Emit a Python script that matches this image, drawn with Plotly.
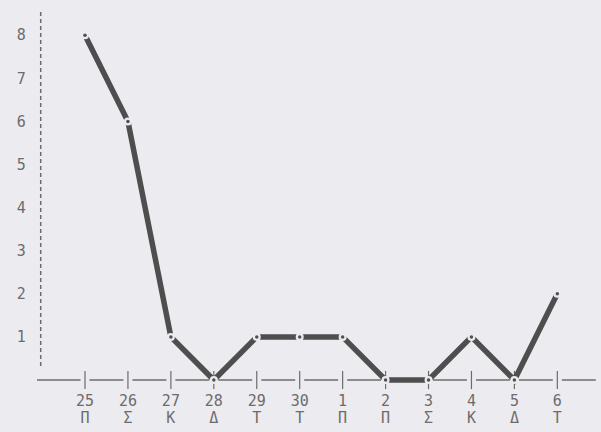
import plotly.graph_objects as go

# ---- data ----
days = ["25", "26", "27", "28", "29", "30", "1", "2", "3", "4", "5", "6"]
weekdays = ["Π", "Σ", "Κ", "Δ", "Τ", "Τ", "Π", "Π", "Σ", "Κ", "Δ", "Τ"]
values = [8, 6, 1, 0, 1, 1, 1, 0, 0, 1, 0, 2]
y_ticks = [1, 2, 3, 4, 5, 6, 7, 8]

# ---- style / geometry ----
W, H = 601, 432
BG = "#ecebf0"
INK = "#6c6c6c"
LINE = "#4e4e4e"
FONT = "DejaVu Sans Mono"

x0_px, dx_px = 85, 42.94      # pixel of first category, pixels per category
y0_px, dy_px = 380, 43.1      # pixel of value 0, pixels per unit

xr = [-x0_px / dx_px, (W - x0_px) / dx_px]
yr = [-(H - y0_px) / dy_px, y0_px / dy_px]

idx = list(range(len(days)))

fig = go.Figure()

# dashed x-axis line: one dash between neighbouring categories, gap at ticks
g = 4.5 / dx_px
ax_x, ax_y = [xr[0] + 37 / dx_px, idx[0] - g, None], [0, 0, None]
for i in idx:
    ax_x += [i + g, i + 1 - g, None]
    ax_y += [0, 0, None]
fig.add_trace(go.Scatter(
    x=ax_x, y=ax_y, mode="lines", line=dict(color=INK, width=1.4),
    hoverinfo="skip", showlegend=False, cliponaxis=False))

# tick marks on x axis
fig.add_trace(go.Scatter(
    x=idx, y=[0] * len(idx), mode="markers",
    marker=dict(symbol="line-ns-open", size=13, color=INK,
                line=dict(width=1.2, color=INK)),
    hoverinfo="skip", showlegend=False, cliponaxis=False))

# data line
fig.add_trace(go.Scatter(
    x=idx, y=values, mode="lines",
    line=dict(color=LINE, width=5.5),
    hoverinfo="skip", showlegend=False, cliponaxis=False))

# gaps at vertices
fig.add_trace(go.Scatter(
    x=idx, y=values, mode="markers",
    marker=dict(size=8, color=BG, line=dict(width=0)),
    hoverinfo="skip", showlegend=False, cliponaxis=False))

# small dots at vertices
fig.add_trace(go.Scatter(
    x=idx, y=values, mode="markers",
    marker=dict(size=3.5, color="#505050", line=dict(width=0)),
    hoverinfo="skip", showlegend=False, cliponaxis=False))

# invisible trace so the weekday axis is drawn
fig.add_trace(go.Scatter(
    x=idx, y=values, xaxis="x2", mode="markers",
    marker=dict(size=1, opacity=0), hoverinfo="skip", showlegend=False))

# dashed y-axis line
fig.add_shape(type="line", xref="paper", yref="y",
              x0=40.7 / W, x1=40.7 / W,
              y0=(y0_px - 366) / dy_px, y1=(y0_px - 10) / dy_px,
              line=dict(color=INK, width=1.5, dash="4px,3px"))

fig.update_layout(
    width=W, height=H,
    margin=dict(l=0, r=0, t=0, b=0),
    paper_bgcolor=BG, plot_bgcolor=BG,
    font=dict(family=FONT, color=INK, size=15),
    xaxis=dict(range=xr, anchor="free", position=(H - y0_px) / H,
               tickvals=idx, ticktext=days, ticks="", showgrid=False,
               zeroline=False, showline=False, ticklabelstandoff=10,
               tickfont=dict(size=15, color=INK)),
    xaxis2=dict(range=xr, anchor="free", position=(H - y0_px) / H,
                overlaying="x", side="bottom",
                tickvals=idx, ticktext=weekdays, ticks="", showgrid=False,
                zeroline=False, showline=False, ticklabelstandoff=27,
                tickfont=dict(size=15, color=INK)),
    yaxis=dict(range=yr, anchor="free", position=40.7 / W,
               tickvals=y_ticks, ticktext=[str(v) for v in y_ticks],
               ticks="", showgrid=False, zeroline=False, showline=False,
               ticklabelstandoff=15, tickfont=dict(size=15, color=INK)),
)

fig.write_html("out.html",
               config={"displayModeBar": False},
               post_script="document.body.style.margin='0';"
                           "document.body.style.background='" + BG + "';")
